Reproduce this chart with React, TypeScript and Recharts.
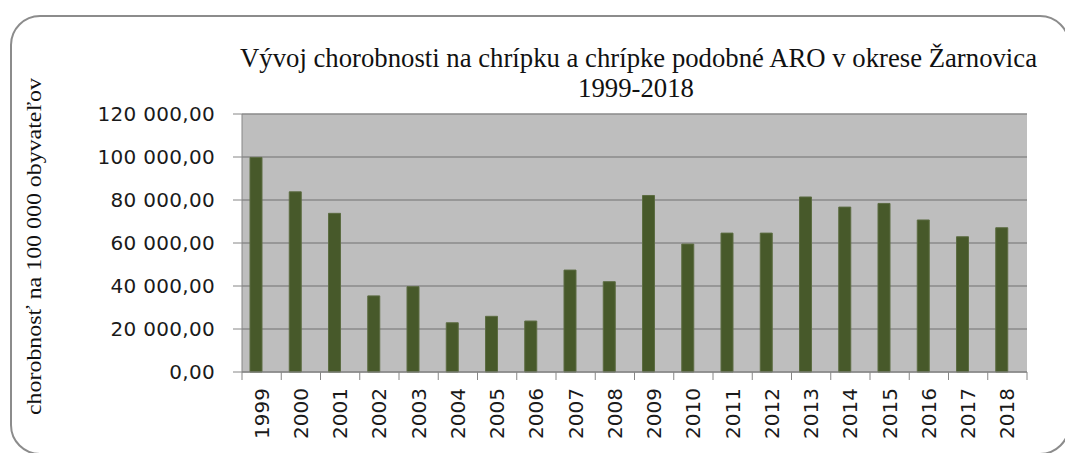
import { BarChart, Bar, XAxis, YAxis, CartesianGrid } from 'recharts';

const years = [
  '1999', '2000', '2001', '2002', '2003', '2004', '2005', '2006', '2007', '2008',
  '2009', '2010', '2011', '2012', '2013', '2014', '2015', '2016', '2017', '2018',
];
const morbidity = [
  99800, 83800, 73800, 35400, 39700, 22900, 25900, 23700, 47400, 42000,
  82100, 59500, 64600, 64600, 81400, 76700, 78400, 70700, 62900, 67100,
];
const yTicks = [0, 20000, 40000, 60000, 80000, 100000, 120000];

const chartTitle = 'Vývoj chorobnosti na chrípku a chrípke podobné ARO v okrese Žarnovica';
const chartSubtitle = '1999-2018';
const yAxisTitle = 'chorobnosť na 100 000 obyvateľov';

const data = years.map((year, i) => ({ year, value: morbidity[i] }));

function formatNumber(n: number) {
  const whole = Math.round(n)
    .toString()
    .replace(/\B(?=(\d{3})+(?!\d))/g, ' ');
  return `${whole},00`;
}

const axisGray = '#868686';

function YearTick(props: any) {
  const { x, y, payload, index } = props;
  const half = payload?.offset ?? 0;
  const axisY = y - 16;
  return (
    <g>
      <line x1={x - half} y1={axisY} x2={x - half} y2={axisY + 8} stroke={axisGray} />
      {index === years.length - 1 && (
        <line x1={x + half} y1={axisY} x2={x + half} y2={axisY + 8} stroke={axisGray} />
      )}
      <text
        x={x}
        y={y}
        dy="0.35em"
        textAnchor="end"
        transform={`rotate(-90, ${x}, ${y})`}
        fontFamily="'DejaVu Sans', sans-serif"
        fontSize={20}
        fill="#1a1a1a"
      >
        {payload.value}
      </text>
    </g>
  );
}

export default function App() {
  return (
    <div style={{ position: 'absolute', left: 0, top: 0, width: 1065, height: 453, overflow: 'hidden', background: '#fff' }}>
      <div
        style={{
          position: 'absolute',
          left: 10,
          top: 15,
          width: 1060,
          height: 440,
          border: '2px solid #8c8c8c',
          borderRadius: 30,
          boxSizing: 'border-box',
        }}
      />
      <BarChart
        width={1065}
        height={453}
        data={data}
        margin={{ top: 114, right: 38, bottom: 0, left: 0 }}
        barGap={0}
        style={{ position: 'absolute', left: 0, top: 0 }}
      >
        <CartesianGrid vertical={false} fill="#bebebe" stroke="#8a8a8a" strokeWidth={1.5} />
        <XAxis
          dataKey="year"
          interval={0}
          tickLine={false}
          tickSize={8}
          tickMargin={8}
          stroke={axisGray}
          tick={<YearTick />}
          height={81}
        />
        <YAxis
          width={242}
          domain={[0, 120000]}
          ticks={yTicks}
          tickFormatter={formatNumber}
          tickSize={9}
          tickMargin={18}
          stroke={axisGray}
          tick={{ fontFamily: "'DejaVu Sans', sans-serif", fontSize: 20, fill: '#1a1a1a', letterSpacing: 0.3 }}
        />
        <Bar dataKey="value" fill="#47592a" stroke="#5c6c42" strokeWidth={1} barSize={12} isAnimationActive={false} />
        <Bar dataKey="empty" barSize={12} isAnimationActive={false} />
      </BarChart>
      <svg width={1065} height={453} style={{ position: 'absolute', left: 0, top: 0, pointerEvents: 'none' }}>
        <text
          x={638.5}
          y={67}
          textAnchor="middle"
          fontFamily="'Liberation Serif', serif"
          fontSize={27}
          textLength={797}
          lengthAdjust="spacingAndGlyphs"
          fill="#111"
        >
          {chartTitle}
        </text>
        <text x={636} y={97} textAnchor="middle" fontFamily="'Liberation Serif', serif" fontSize={27} textLength={116} lengthAdjust="spacingAndGlyphs" fill="#111">
          {chartSubtitle}
        </text>
        <text
          x={40.5}
          y={246.5}
          textAnchor="middle"
          transform="rotate(-90, 40.5, 246.5)"
          fontFamily="'Liberation Serif', serif"
          fontSize={20}
          textLength={337}
          lengthAdjust="spacingAndGlyphs"
          fill="#111"
        >
          {yAxisTitle}
        </text>
      </svg>
    </div>
  );
}
